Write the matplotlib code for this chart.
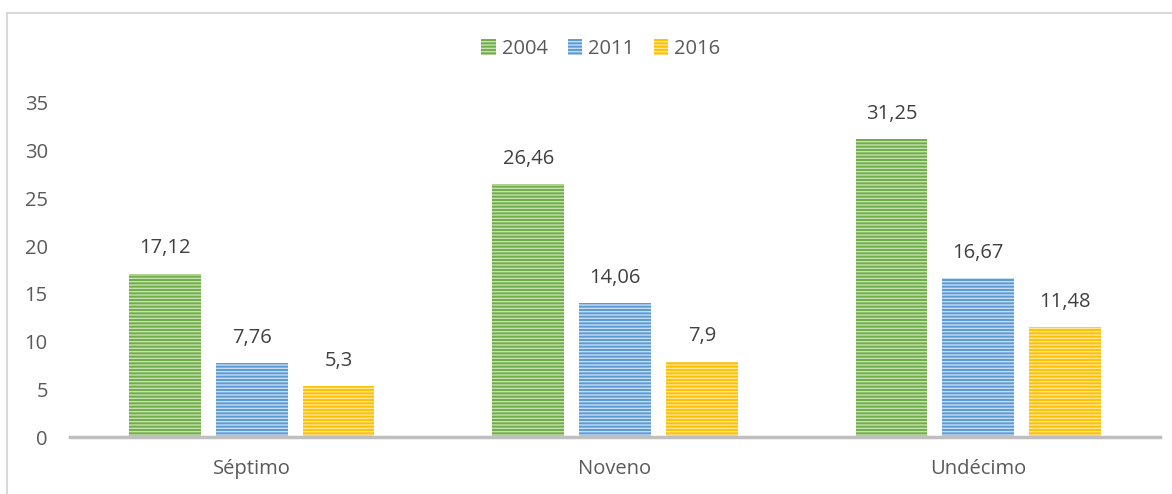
import matplotlib.pyplot as plt
import numpy as np
from matplotlib.patches import Rectangle

# ===== DATA =====
grades = ["Séptimo", "Noveno", "Undécimo"]
years = ["2004", "2011", "2016"]
v2004 = [17.12, 26.46, 31.25]
v2011 = [7.76, 14.06, 16.67]
v2016 = [5.3, 7.9, 11.48]
labels2004 = ["17,12", "26,46", "31,25"]
labels2011 = ["7,76", "14,06", "16,67"]
labels2016 = ["5,3", "7,9", "11,48"]

colors = ["#70ad47", "#5b9bd5", "#ffc000"]
stripe_colors = ["#c5e0b4", "#c9ddf1", "#ffe699"]

plt.rcParams["font.family"] = ["Open Sans", "DejaVu Sans"]
plt.rcParams["hatch.linewidth"] = 1.0

fig = plt.figure(figsize=(11.72, 4.94), dpi=100)
ax = fig.add_axes([70 / 1172, 57 / 494, 1090 / 1172, 334 / 494])

# chart border (cropped on right/bottom as in the reference)
fig.patches.append(Rectangle((7 / 1172, -0.05), 1.1, (494 - 12.5) / 494 + 0.05,
                             transform=fig.transFigure, fill=False,
                             edgecolor="#d9d9d9", linewidth=1.5))

x = np.arange(len(grades))
width = 0.198
offset = 0.239
fs = 14.5

series = [v2004, v2011, v2016]
texts = [labels2004, labels2011, labels2016]
for i, (vals, lbls) in enumerate(zip(series, texts)):
    pos = x + (i - 1) * offset
    bars = ax.bar(pos, vals, width, color=colors[i], edgecolor=stripe_colors[i],
                  linewidth=0, hatch="-----", label=years[i], zorder=2)
    for b, t in zip(bars, lbls):
        ax.text(b.get_x() + b.get_width() / 2, b.get_height() + 1.6, t,
                ha="center", va="bottom", fontsize=fs, color="#404040")

ax.set_xlim(-0.5, 2.5)
ax.set_ylim(0, 35)
ax.set_yticks(range(0, 36, 5))
ax.set_xticks(x)
ax.set_xticklabels(grades)
ax.tick_params(axis="both", length=0, labelsize=fs, labelcolor="#595959")
ax.tick_params(axis="y", pad=16)
ax.tick_params(axis="x", pad=16)

for s in ["top", "right", "left"]:
    ax.spines[s].set_visible(False)
ax.spines["bottom"].set_color("#bfbfbf")
ax.spines["bottom"].set_linewidth(2.5)
ax.spines["bottom"].set_zorder(3)

leg = fig.legend(loc="center", bbox_to_anchor=(601 / 1172, 1 - 49 / 494), ncol=3,
                 frameon=False, fontsize=fs, handlelength=0.7, handleheight=0.85,
                 handletextpad=0.3, columnspacing=1.0, labelcolor="#595959")

plt.savefig("out.png", dpi=100)
